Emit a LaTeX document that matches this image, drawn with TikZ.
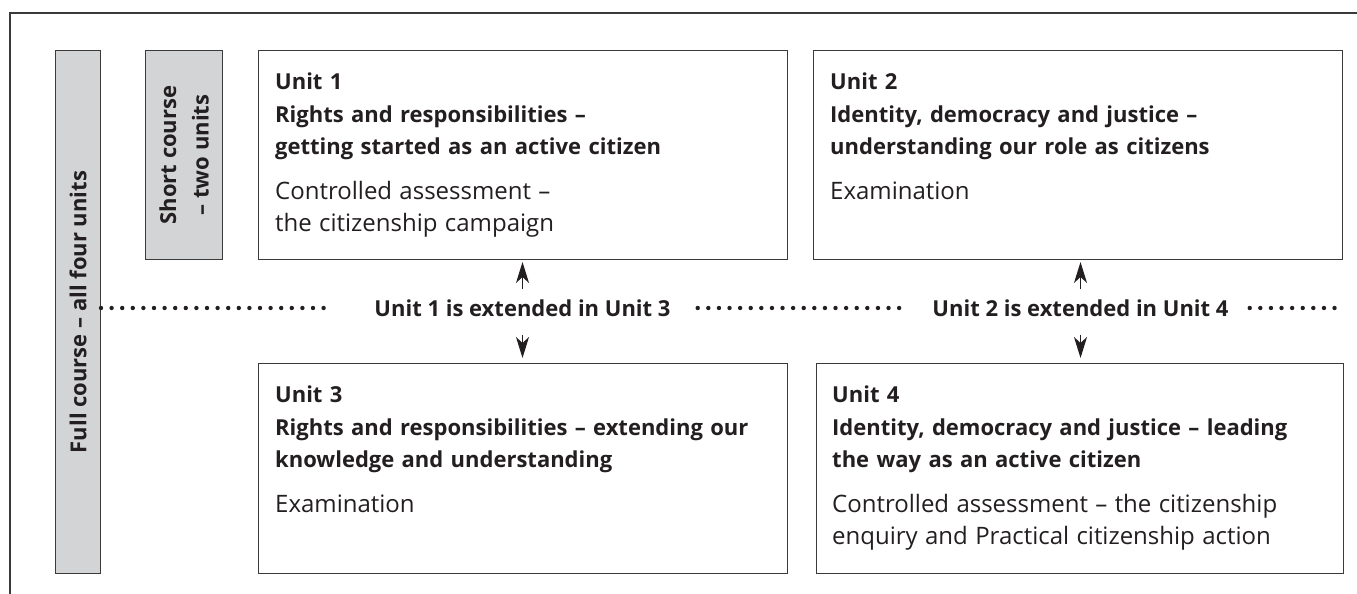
\documentclass[tikz,border=0pt]{standalone}
\usepackage{fontspec}
\setmainfont{Open Sans}
\usetikzlibrary{arrows.meta}

\definecolor{ink}{HTML}{231F20}
\definecolor{boxgray}{HTML}{3A3A3A}
\definecolor{barfill}{HTML}{D3D4D5}
\newcommand\unitfont{\fontsize{22}{32.5}\selectfont}
\newcommand\bodyfont{\fontsize{24}{32.5}\selectfont\mdseries}

\tikzset{
  frame/.style={draw=boxgray, line width=1.3pt},
  unitbox/.style={draw=boxgray, line width=1pt, anchor=north west, inner sep=0pt},
  coursebar/.style={unitbox, fill=barfill},
  unittext/.style={anchor=north west, align=left, text width=505pt, inner sep=0pt, text=ink, font=\unitfont},
  bartext/.style={rotate=90, align=center, inner sep=0pt, text=ink, font=\unitfont\bfseries},
  extlabel/.style={inner xsep=0pt, inner ysep=10pt, text=ink, font=\unitfont\bfseries},
  dotline/.style={draw=ink, line width=4.4pt, line cap=round, dash pattern=on 0pt off 10.6pt},
  extarrow/.style={draw=ink, line width=1.2pt, -{Stealth[length=21pt, width=13pt, inset=6pt]}}
}

\begin{document}
\begin{tikzpicture}[x=1pt, y=-1pt]
\useasboundingbox (0,0) rectangle (1357,594);
\draw[frame] (10,594) -- (10,13) -- (1357,13);

% course bars on the left
\node[coursebar, minimum width=45pt, minimum height=523pt] (full) at (55,50) {};
\node[coursebar, minimum width=77pt, minimum height=209pt] (short) at (145,50) {};
\node[bartext] (fulltext) at (full.center) {Full course – all four units};
\node[bartext] (shorttext) at (short.center) {Short course\\– two units};

% the four units
\node[unitbox, minimum width=529pt, minimum height=209pt] (u1) at (258,50) {};
\node[unitbox, minimum width=529pt, minimum height=209pt] (u2) at (813,50) {};
\node[unitbox, minimum width=529pt, minimum height=210pt] (u3) at (258,363) {};
\node[unitbox, minimum width=527pt, minimum height=210pt] (u4) at (816,363) {};

\node[unittext] (u1text) at ([xshift=17pt, yshift=-23pt]u1.north west)
  {\bfseries Unit 1\\Rights and responsibilities –\\getting started as an active citizen\\[12pt]
   \bodyfont Controlled assessment –\\the citizenship campaign};
\node[unittext] (u2text) at ([xshift=17pt, yshift=-23pt]u2.north west)
  {\bfseries Unit 2\\Identity, democracy and justice –\\understanding our role as citizens\\[12pt]
   \bodyfont Examination};
\node[unittext] (u3text) at ([xshift=17pt, yshift=-23pt]u3.north west)
  {\bfseries Unit 3\\Rights and responsibilities – extending our\\knowledge and understanding\\[12pt]
   \bodyfont Examination};
\node[unittext] (u4text) at ([xshift=16pt, yshift=-23pt]u4.north west)
  {\bfseries Unit 4\\Identity, democracy and justice – leading\\the way as an active citizen\\[12pt]
   \bodyfont Controlled assessment – the citizenship\\enquiry and Practical citizenship action};

% extension line between the rows
\node[extlabel] (ext1) at (522.5,308) {Unit 1 is extended in Unit 3};
\node[extlabel] (ext2) at (1080.5,308) {Unit 2 is extended in Unit 4};

\draw[dotline] (full.east |- ext1) -- ([xshift=-50pt]ext1.west);
\draw[dotline] ([xshift=27pt]ext1.east) -- ([xshift=-27pt]ext2.west);
\draw[dotline] ([xshift=21pt]ext2.east) -- (u4.east |- ext2);

\draw[extarrow, shorten >=2pt] (ext1.north) -- (ext1.north |- u1.south);
\draw[extarrow, shorten <=8pt, shorten >=5pt] (ext1.south) -- (ext1.south |- u3.north);
\draw[extarrow, shorten >=2pt] (ext2.north) -- (ext2.north |- u2.south);
\draw[extarrow, shorten <=8pt, shorten >=5pt] (ext2.south) -- (ext2.south |- u4.north);
\end{tikzpicture}
\end{document}
